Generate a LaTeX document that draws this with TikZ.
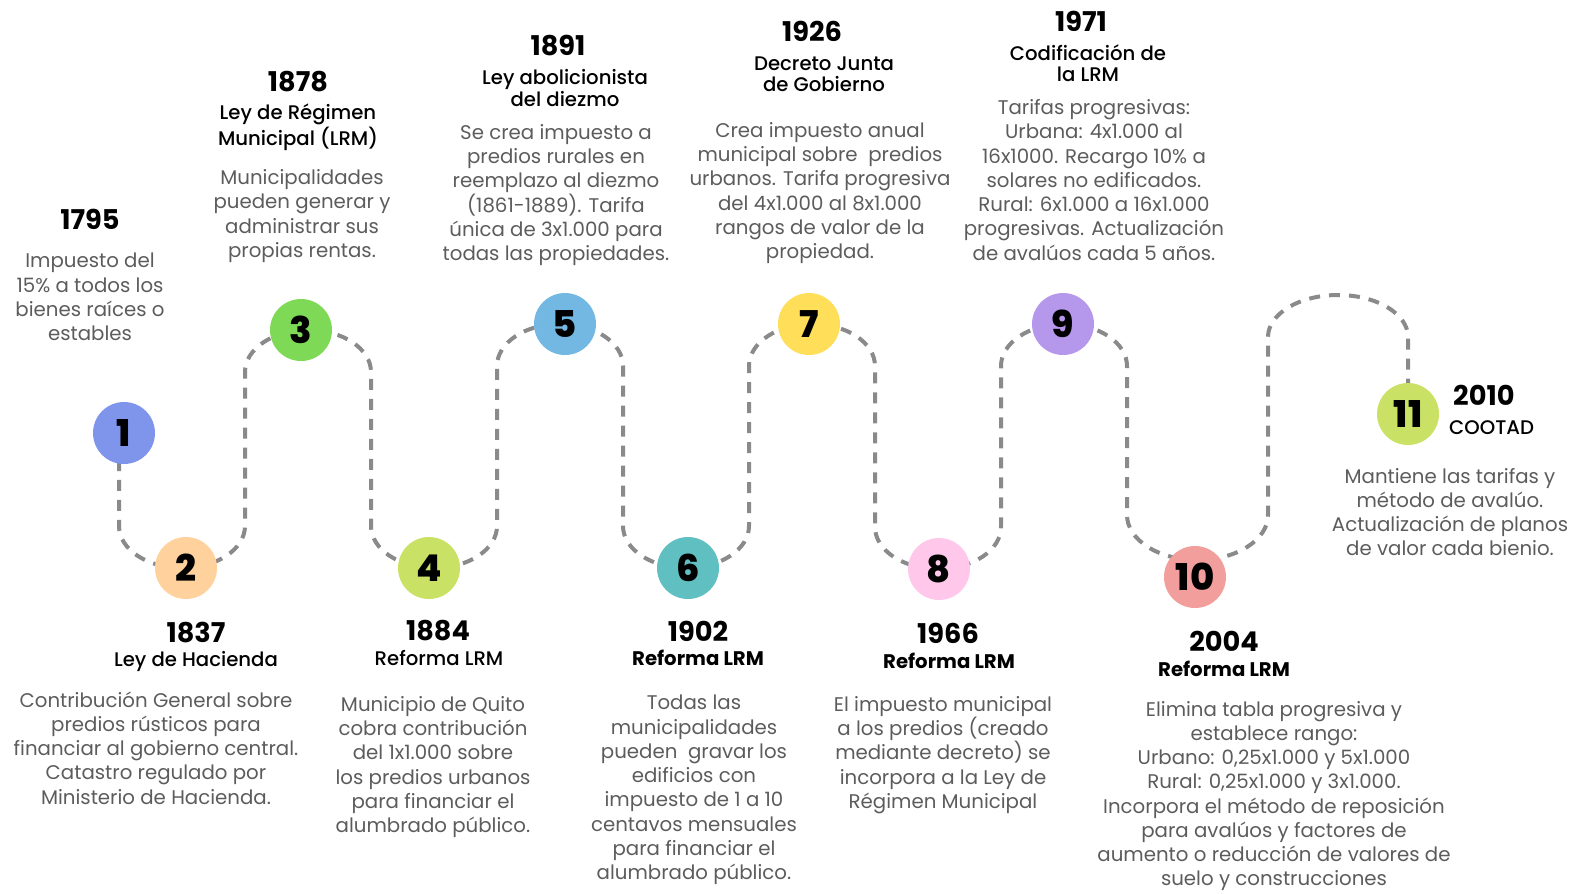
\documentclass[tikz,border=0pt]{standalone}
\usepackage{fontspec}
\setmainfont{Poppins}
\newfontfamily\medfont{Poppins Medium}
\newfontfamily\heavyfont{Poppins ExtraBold}
\usetikzlibrary{positioning}
\pgfdeclarelayer{background}
\pgfsetlayers{background,main}
\definecolor{trailgray}{HTML}{8A8A8A}
\definecolor{bodygray}{HTML}{5C5C5C}
\definecolor{cone}{HTML}{7F95EC}
\definecolor{ctwo}{HTML}{FFD29D}
\definecolor{cthree}{HTML}{7ED957}
\definecolor{cfour}{HTML}{C9E265}
\definecolor{cfive}{HTML}{72B8E2}
\definecolor{csix}{HTML}{5FBFC1}
\definecolor{cseven}{HTML}{FFDE59}
\definecolor{ceight}{HTML}{FFC8EA}
\definecolor{cnine}{HTML}{B597EB}
\definecolor{cten}{HTML}{F29E9C}

\begin{document}
\begin{tikzpicture}[x=0.02cm,y=-0.02cm,
  dot/.style={circle,minimum size=1.24cm,inner sep=0pt,font=\heavyfont\fontsize{21}{21}\selectfont,text=black},
  year/.style={font=\bfseries\fontsize{15.5}{15.5}\selectfont,text=black},
  head/.style={font=\medfont\fontsize{11.2}{12}\selectfont,align=center,text=black},
  headb/.style={font=\bfseries\fontsize{11.2}{12}\selectfont,align=center,text=black},
  body/.style={font=\fontsize{11.25}{13.8}\selectfont,align=center,text=bodygray},
  trail/.style={draw=trailgray,line width=0.08cm,dash pattern=on 0.22cm off 0.18cm},
  up/.style={start angle=180,end angle=360,x radius=63,y radius=42},
  down/.style={start angle=180,end angle=0,x radius=63,y radius=42}]
  \useasboundingbox (0,0) rectangle (1576,893);

  \node[dot,fill=cone]   (n1)  at (124,433) {1};
  \node[dot,fill=ctwo]   (n2)  at (186,568) {2};
  \node[dot,fill=cthree] (n3)  at (301,330) {3};
  \node[dot,fill=cfour]  (n4)  at (429,568) {4};
  \node[dot,fill=cfive]  (n5)  at (565,324) {5};
  \node[dot,fill=csix]   (n6)  at (688,568) {6};
  \node[dot,fill=cseven] (n7)  at (809,324) {7};
  \node[dot,fill=ceight] (n8)  at (939,569) {8};
  \node[dot,fill=cnine]  (n9)  at (1063,324) {9};
  \node[dot,fill=cten]   (n10) at (1195,577) {10};
  \node[dot,fill=cfour]  (n11) at (1408,414) {11};

  \coordinate (start) at (119,440);
  \begin{pgfonlayer}{background}
    \draw[trail] (start) -- (119,526) arc[down]
      -- (245,372) arc[up]
      -- (371,526) arc[down]
      -- (497,366) arc[up]
      -- (623,526) arc[down]
      -- (749,366) arc[up]
      -- (875,527) arc[down]
      -- (1001,366) arc[up]
      -- (1127,515) arc[start angle=180,end angle=0,x radius=70.5,y radius=45]
      -- (1268,337) arc[start angle=180,end angle=360,x radius=70,y radius=42]
      -- (n11.center);
  \end{pgfonlayer}

  \node[year] (y1) at (90,219) {1795};
  \node[body] (b1) at (90,297) {Impuesto del\\15\% a todos los\\bienes raíces o\\estables};

  \node[year] (y3) at (298,82) {1878};
  \node[head] (h3) at (298,127) {Ley de Régimen\\Municipal (LRM)};
  \node[body] (b3) at (302,216) {Municipalidades\\pueden generar y\\administrar sus\\propias rentas.};

  \node[year] (y5) at (558,46) {1891};
  \node[head] (h5) at (565,88) {Ley abolicionista\\del diezmo};
  \node[body] (b5) at (556,195) {Se crea impuesto a\\predios rurales en\\reemplazo al diezmo\\(1861-1889). Tarifa\\única de 3x1.000 para\\todas las propiedades.};

  \node[year] (y7) at (812,31) {1926};
  \node[head] (h7) at (824,74) {Decreto Junta\\de Gobierno};
  \node[body] (b7) at (820,193) {Crea impuesto anual\\municipal sobre\ \ predios\\urbanos. Tarifa progresiva\\del 4x1.000 al 8x1.000\\rangos de valor de la\\propiedad.};

  \node[year] (y9) at (1081,21) {1971};
  \node[head] (h9) at (1088,63) {Codificación de\\la LRM};
  \node[body] (b9) at (1094,180) {Tarifas progresivas:\\Urbana: 4x1.000 al\\16x1000. Recargo 10\% a\\solares no edificados.\\Rural: 6x1.000 a 16x1.000\\progresivas. Actualización\\de avalúos cada 5 años.};

  \node[year,anchor=west] (y11) at (1447,395) {2010};
  \node[head,anchor=west] (h11) at (1443,428) {COOTAD};
  \node[body] (b11) at (1450,512) {Mantiene las tarifas y\\método de avalúo.\\Actualización de planos\\de valor cada bienio.};

  \node[year] (y2) at (196,633) {1837};
  \node[head] (h2) at (196,661) {Ley de Hacienda};
  \node[body] (b2) at (156,748) {Contribución General sobre\\predios rústicos para\\financiar al gobierno central.\\Catastro regulado por\\Ministerio de Hacienda.};

  \node[year] (y4) at (438,631) {1884};
  \node[head] (h4) at (439,658) {Reforma LRM};
  \node[body] (b4) at (433,767) {Municipio de Quito\\cobra contribución\\del 1x1.000 sobre\\los predios urbanos\\para financiar el\\alumbrado público.};

  \node[year] (y6) at (698,631) {1902};
  \node[headb] (h6) at (698,658) {Reforma LRM};
  \node[body] (b6) at (694,790) {Todas las\\municipalidades\\pueden\ \ gravar los\\edificios con\\impuesto de 1 a 10\\centavos mensuales\\para financiar el\\alumbrado público.};

  \node[year] (y8) at (948,633) {1966};
  \node[headb] (h8) at (949,661) {Reforma LRM};
  \node[body] (b8) at (943,755) {El impuesto municipal\\a los predios (creado\\mediante decreto) se\\incorpora a la Ley de\\Régimen Municipal};

  \node[year] (y10) at (1224,641) {2004};
  \node[headb] (h10) at (1224,669) {Reforma LRM};
  \node[body] (b10) at (1274,796) {Elimina tabla progresiva y\\establece rango:\\Urbano: 0,25x1.000 y 5x1.000\\Rural: 0,25x1.000 y 3x1.000.\\Incorpora el método de reposición\\para avalúos y factores de\\aumento o reducción de valores de\\suelo y construcciones};
\end{tikzpicture}
\end{document}
